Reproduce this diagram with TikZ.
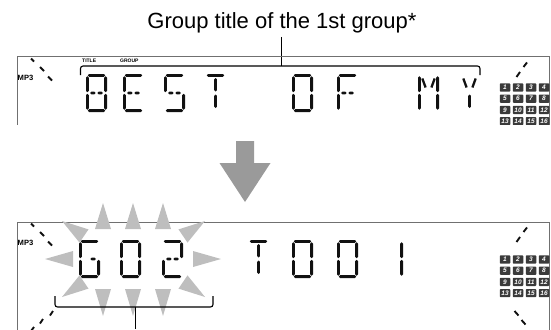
\documentclass[tikz,border=0pt]{standalone}
\usepackage{fontspec}
\setmainfont{Liberation Sans}
\usetikzlibrary{calc}
\definecolor{segc}{HTML}{111111}
\definecolor{framec}{HTML}{707070}
\definecolor{arrc}{HTML}{9A9A9A}
\definecolor{trc}{HTML}{BEBEBE}
\definecolor{cellc}{HTML}{3A3A3A}
% horizontal and vertical LCD segments (hexagons)
\newcommand{\hsg}[3]{\fill[segc] (#1,#3) -- ({#1+1.4},{#3-1.4}) -- ({#2-1.4},{#3-1.4}) -- (#2,#3) -- ({#2-1.4},{#3+1.4}) -- ({#1+1.4},{#3+1.4}) -- cycle;}
\newcommand{\vsg}[3]{\fill[segc] (#1,#2) -- ({#1+1.4},{#2+1.4}) -- ({#1+1.4},{#3-1.4}) -- (#1,#3) -- ({#1-1.4},{#3-1.4}) -- ({#1-1.4},{#2+1.4}) -- cycle;}
\newcommand{\sgA}{\hsg{1.8}{19.2}{1.4}}
\newcommand{\sgD}{\hsg{1.8}{19.2}{36.6}}
\newcommand{\sgF}{\vsg{1.4}{2.2}{18.2}}
\newcommand{\sgE}{\vsg{1.4}{19.8}{35.8}}
\newcommand{\sgB}{\vsg{19.6}{2.2}{18.2}}
\newcommand{\sgC}{\vsg{19.6}{19.8}{35.8}}
\newcommand{\sgG}{\hsg{4.2}{9.6}{19}}
\newcommand{\sgK}{\hsg{11.4}{16.8}{19}}
\newcommand{\sgI}{\vsg{10.5}{4}{17.5}}
\newcommand{\sgL}{\vsg{10.5}{20.5}{34}}
\newcommand{\sgH}{\draw[segc,line width=2.3pt] (4.3,4.5) -- (7.6,13.5);}
\newcommand{\sgJ}{\draw[segc,line width=2.3pt] (16.7,4.5) -- (13.4,13.5);}
\newcommand{\lcd}[3]{\begin{scope}[shift={(#1,#2)}]#3\end{scope}}
% glow triangle: tip, base centre
\newcommand{\trg}[4]{\fill[trc] (#1,#2) -- ($(#3,#4)!8pt!90:(#1,#2)$) -- ($(#3,#4)!8pt!-90:(#1,#2)$) -- cycle;}
\newcommand{\dsh}[4]{\draw[segc,line width=1.9pt] (#1,#2) -- (#3,#4);}
\newcommand{\cellgrid}[2]{%
  \foreach \r in {0,...,3}{\foreach \c in {0,...,3}{%
    \pgfmathtruncatemacro\n{4*\r+\c+1}%
    \node[cellbox] (#2-\n) at ({505+13*\c},{#1+11.2*\r}) {\n};}}}
\tikzset{
  cellbox/.style={fill=cellc,text=white,rounded corners=0.8pt,inner sep=0pt,
    minimum width=10.5pt,minimum height=8.2pt,
    font=\fontsize{6.5}{6.5}\selectfont\bfseries\itshape},
  framestyle/.style={draw=framec,line width=1pt},
  bracket/.style={draw=black,line width=1.1pt,rounded corners=2.5pt},
  smalllbl/.style={inner sep=0pt,anchor=base west,font=\fontsize{5}{5}\selectfont\bfseries},
  mplbl/.style={inner sep=0pt,anchor=base west,font=\fontsize{7.6}{7.6}\selectfont\bfseries}
}
\begin{document}
\begin{tikzpicture}[x=1pt,y=-1pt]
\useasboundingbox (0,0) rectangle (551,329);
% ---------- title and leader ----------
\node[anchor=base,inner sep=0pt,font=\fontsize{22}{26}\selectfont] (title) at (282,29) {Group title of the 1st group*};
\coordinate (brtop) at (281,66);
\draw[line width=1pt,shorten <=3pt] (brtop |- title.south) -- (brtop);
% ---------- top panel ----------
\begin{scope}
\clip (0,0) rectangle (551,124);
\draw[framestyle] (17,131) -- (17,57) -- (549,57) -- (549,131);
\cellgrid{87.5}{ta}
\end{scope}
\node[smalllbl] (ttitle) at (82,63) {TITLE};
\node[smalllbl] (tgroup) at (120,63) {GROUP};
\draw[bracket] (80.5,75) -- (80.5,66) -- (480,66) -- (480,75);
\node[mplbl] (mp3a) at (17.5,80) {MP3};
\dsh{31}{58.5}{34}{61.5}
\dsh{40}{67}{44}{71}
\dsh{48}{76.5}{52}{80.5}
\dsh{527}{62.5}{523.5}{67}
\dsh{520}{72}{516.5}{77}
% characters B E S T  O F  M Y
\lcd{86}{74}{\sgA\sgB\sgC\sgD\sgE\sgF\sgG\sgK}
\lcd{123}{74}{\sgA\sgD\sgE\sgF\sgG\sgK}
\lcd{164}{74}{\sgA\sgF\sgG\sgK\sgC\sgD}
\lcd{205}{74}{\sgA\sgI\sgL}
\lcd{292}{74}{\sgA\sgB\sgC\sgD\sgE\sgF}
\lcd{337}{74}{\sgA\sgF\sgE\sgG\sgK}
\lcd{418}{74}{\sgF\sgE\sgB\sgC\sgH\sgJ}
\lcd{459}{74}{\sgH\sgJ\sgL}
% ---------- arrow ----------
\fill[arrc] (236,141) -- (254,141) -- (254,163) -- (270.5,163) -- (245,202) -- (219.5,163) -- (236,163) -- cycle;
% ---------- bottom panel ----------
\draw[framestyle] (17,330) -- (17,222) -- (549,222) -- (549,330);
% glow triangles
\trg{103}{203}{103}{229}
\trg{133}{203}{133}{229}
\trg{163}{203}{163}{229}
\trg{103}{316}{103}{289}
\trg{133}{316}{133}{289}
\trg{163}{316}{163}{289}
\trg{45}{259}{73}{259}
\trg{221}{259}{193}{259}
\trg{62}{221}{84}{236}
\trg{205}{221}{183}{236}
\trg{62}{297}{84}{282}
\trg{205}{297}{183}{282}
\cellgrid{259.5}{ba}
\node[mplbl] (mp3b) at (17.5,245) {MP3};
\dsh{31}{223.5}{34}{226.5}
\dsh{40}{232}{44}{236}
\dsh{48}{241.5}{52}{245.5}
\dsh{527}{227.5}{523.5}{232}
\dsh{520}{237}{516.5}{242}
\dsh{53}{311}{50}{315.5}
\dsh{43}{319}{40}{323.5}
\dsh{34}{327}{31}{331}
\dsh{514.5}{311}{518.5}{315.5}
\dsh{521.5}{320}{525.5}{324.5}
% characters G 0 2  T 0 0 1
\lcd{79}{240}{\sgA\sgF\sgE\sgD\sgC\sgK}
\lcd{120}{240}{\sgA\sgB\sgC\sgD\sgE\sgF}
\lcd{162}{240}{\sgA\sgB\sgG\sgK\sgE\sgD}
\lcd{248}{240}{\sgA\sgI\sgL}
\lcd{292}{240}{\sgA\sgB\sgC\sgD\sgE\sgF}
\lcd{337}{240}{\sgA\sgB\sgC\sgD\sgE\sgF}
\lcd{382}{240}{\sgB\sgC}
% bracket and leader
\draw[bracket] (55,296) -- (55,307) -- (213,307) -- (213,296);
\coordinate (brbot) at (135,307);
\coordinate (lbot) at (135,329);
\draw[line width=1pt] (brbot) -- (lbot);
\end{tikzpicture}
\end{document}
